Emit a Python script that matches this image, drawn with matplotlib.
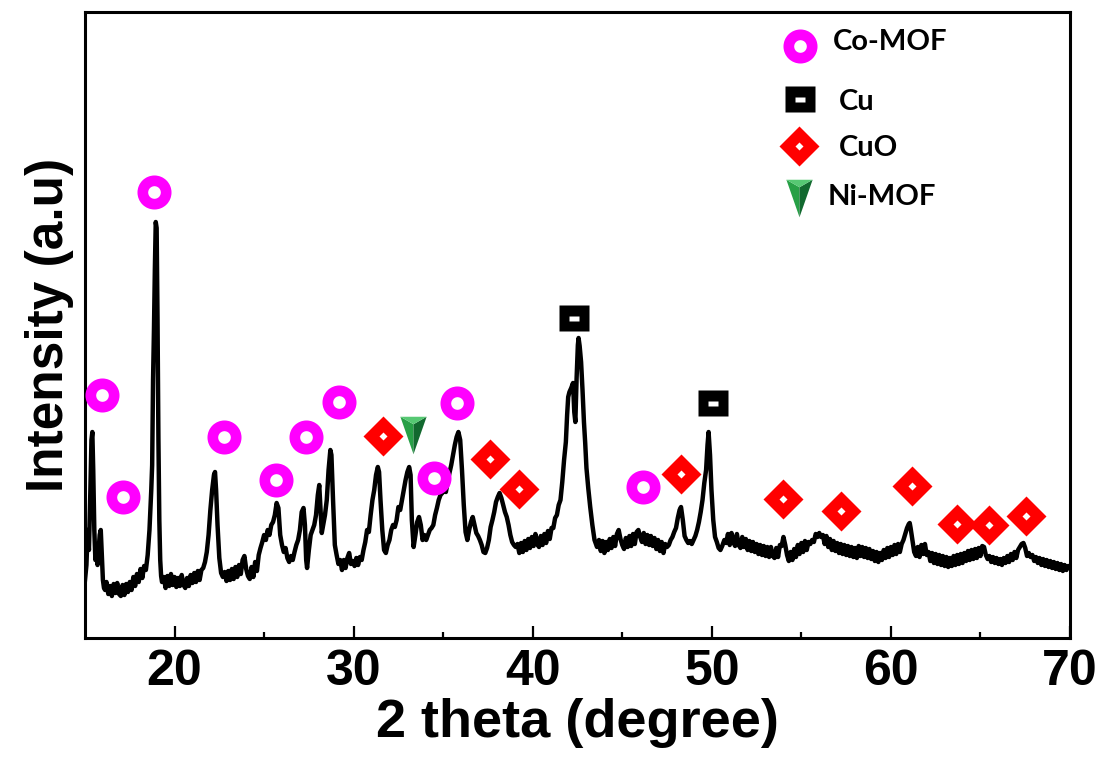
import matplotlib
matplotlib.use('Agg')
import matplotlib.pyplot as plt

# XRD scan (2 theta in degree, intensity in a.u.)
two_theta = [
    15.00, 15.08, 15.15, 15.22, 15.30, 15.36, 15.41, 15.46, 15.52, 15.58, 15.64, 15.70, 15.76, 15.82, 15.88, 15.94, 16.00, 16.06, 16.12,
    16.2, 16.3, 16.4, 16.5, 16.6, 16.7, 16.8, 16.9, 17.0, 17.1, 17.2, 17.3, 17.4, 17.5, 17.6, 17.7, 17.8, 17.9, 18.0, 18.1, 18.2, 18.3, 18.4,
    18.5, 18.6, 18.7, 18.75, 18.8, 18.85, 18.9, 18.95, 19.0, 19.05, 19.1, 19.15, 19.2, 19.25, 19.3,
    19.4, 19.5, 19.6, 19.7, 19.8, 19.9, 20.0, 20.1, 20.2, 20.3, 20.4, 20.5, 20.6, 20.7, 20.8, 20.9, 21.0, 21.1, 21.2, 21.3, 21.4, 21.5,
    21.6, 21.7, 21.8, 21.9, 22.0, 22.1, 22.2, 22.26, 22.32, 22.4, 22.5, 22.6, 22.7,
    22.8, 22.9, 23.0, 23.1, 23.2, 23.3, 23.4, 23.5, 23.6, 23.7, 23.8, 23.9, 24.0, 24.1, 24.2, 24.3, 24.4, 24.5, 24.6,
    24.7, 24.8, 24.9, 25.0, 25.1, 25.2, 25.3, 25.4, 25.5, 25.6, 25.7, 25.8, 25.9, 26.0, 26.1, 26.2, 26.3, 26.4, 26.5, 26.6, 26.7, 26.8, 26.9, 27.0, 27.1, 27.2,
    27.28, 27.35, 27.4, 27.5, 27.6, 27.7, 27.8, 27.9, 28.0, 28.08, 28.15, 28.22, 28.3, 28.4, 28.5, 28.6, 28.7, 28.76, 28.85, 28.95,
    29.05, 29.15, 29.25, 29.35, 29.45, 29.55, 29.65, 29.75, 29.85, 29.95, 30.05, 30.15, 30.25, 30.35, 30.45, 30.55, 30.65, 30.75, 30.85, 30.95,
    31.05, 31.15, 31.25, 31.35, 31.42, 31.5, 31.6, 31.7, 31.8, 31.9, 32.0, 32.1, 32.2, 32.3, 32.4, 32.5, 32.6, 32.7, 32.8, 32.9, 33.0, 33.1, 33.18, 33.25, 33.35,
    33.45, 33.55, 33.65, 33.75, 33.85, 33.95, 34.05, 34.15, 34.25, 34.35, 34.45, 34.55, 34.65, 34.75, 34.85, 34.95, 35.05, 35.15, 35.25, 35.35,
    35.45, 35.55, 35.65, 35.75, 35.85, 35.95, 36.05, 36.15, 36.25, 36.35, 36.45,
    36.55, 36.65, 36.75, 36.85, 36.95, 37.05, 37.15, 37.25, 37.35, 37.45, 37.55, 37.65, 37.75, 37.85, 37.95, 38.05,
    38.15, 38.25, 38.35, 38.45, 38.55, 38.65, 38.75, 38.85, 38.95, 39.05, 39.15,
    39.25, 39.35, 39.45, 39.55, 39.65, 39.75, 39.85, 39.95, 40.05, 40.15, 40.25, 40.35, 40.45, 40.55, 40.65, 40.75, 40.85, 40.95, 41.05, 41.15, 41.25, 41.35, 41.45,
    41.55, 41.65, 41.75, 41.85, 41.92, 41.98, 42.05, 42.15, 42.25, 42.32, 42.38, 42.45, 42.52, 42.56, 42.62, 42.7, 42.78, 42.86, 42.93, 43.0, 43.1, 43.21, 43.33, 43.45, 43.59,
    43.7, 43.8, 43.9, 44.0, 44.1, 44.2, 44.3, 44.4, 44.5, 44.6, 44.7, 44.8, 44.9, 45.0, 45.1, 45.2, 45.3, 45.4, 45.5, 45.6,
    45.7, 45.8, 45.9, 46.0, 46.1, 46.2, 46.3, 46.4, 46.5, 46.6, 46.7, 46.8, 46.9, 47.0, 47.1, 47.2, 47.3, 47.4, 47.5,
    47.6, 47.7, 47.8, 47.9, 48.0, 48.1, 48.2, 48.28, 48.38, 48.48, 48.58, 48.68, 48.78, 48.88, 48.98, 49.08, 49.18, 49.28, 49.38, 49.48,
    49.58, 49.68, 49.76, 49.82, 49.9, 49.98, 50.08, 50.18, 50.28, 50.38, 50.48, 50.58,
    50.7, 50.8, 50.9, 51.0, 51.1, 51.2, 51.3, 51.4, 51.5, 51.6, 51.7, 51.8, 51.9, 52.0, 52.1, 52.2, 52.3, 52.4, 52.5, 52.6,
    52.7, 52.8, 52.9, 53.0, 53.1, 53.2, 53.3, 53.4, 53.5, 53.6, 53.7,
    53.8, 53.9, 54.0, 54.1, 54.2, 54.3, 54.4, 54.5, 54.6, 54.7, 54.8, 54.9, 55.0, 55.1, 55.2, 55.3, 55.4, 55.5, 55.6, 55.7,
    55.8, 55.9, 56.0, 56.1, 56.2, 56.3, 56.4, 56.5, 56.6, 56.7, 56.8, 56.9, 57.0, 57.1, 57.2, 57.3, 57.4, 57.5, 57.6, 57.7,
    57.8, 57.9, 58.0, 58.1, 58.2, 58.3, 58.4, 58.5, 58.6, 58.7, 58.8, 58.9, 59.0, 59.1, 59.2, 59.3, 59.4, 59.5, 59.6, 59.7,
    59.8, 59.9, 60.0, 60.1, 60.2, 60.3, 60.4, 60.5,
    60.6, 60.7, 60.8, 60.9, 61.0, 61.05, 61.1, 61.2, 61.3,
    61.4, 61.5, 61.6, 61.7, 61.8, 61.9, 62.0, 62.1, 62.2, 62.3, 62.4, 62.5, 62.6, 62.7, 62.8, 62.9, 63.0, 63.1, 63.2, 63.3,
    63.4, 63.5, 63.6, 63.7, 63.8, 63.9, 64.0, 64.1, 64.2, 64.3, 64.4, 64.5, 64.6, 64.7, 64.8, 64.9, 65.0, 65.1, 65.2, 65.3,
    65.4, 65.5, 65.6, 65.7, 65.8, 65.9, 66.0, 66.1, 66.2, 66.3, 66.4, 66.5, 66.6, 66.7, 66.8, 66.9, 67.0, 67.1, 67.2, 67.3,
    67.4, 67.5, 67.6, 67.7, 67.8, 67.9, 68.0, 68.1, 68.2, 68.3, 68.4, 68.5, 68.6, 68.7, 68.8, 68.9, 69.0, 69.1, 69.2, 69.3,
    69.4, 69.5, 69.6, 69.7, 69.8, 69.9, 70.0,
]
intensity = [
    60, 75, 110, 90, 150, 200, 208, 170, 110, 80, 95, 75, 90, 105, 110, 85, 60, 52, 50,
    58, 46, 54, 44, 56, 47, 57, 46, 44, 55, 45, 56, 48, 58, 50, 63, 54, 66, 58, 71, 62, 74, 70,
    85, 110, 150, 175, 260, 310, 370, 418, 412, 320, 200, 120, 80, 64, 58,
    63, 52, 64, 54, 66, 55, 63, 53, 62, 54, 65, 55, 52, 62, 54, 65, 57, 67, 58, 69, 60, 70,
    72, 78, 88, 105, 130, 150, 165, 168, 150, 115, 82, 67, 63,
    68, 59, 69, 60, 71, 61, 73, 63, 75, 66, 80, 84, 71, 64, 61, 73, 63, 78, 69,
    85, 92, 98, 105, 100, 110, 105, 115, 118, 125, 137, 132, 105, 95, 88, 92, 82, 78, 84, 80, 88, 95, 100, 110, 128, 132,
    115, 80, 72, 90, 105, 110, 115, 125, 145, 155, 130, 107, 115, 125, 140, 170, 190, 185, 140, 95,
    85, 76, 80, 70, 80, 72, 82, 87, 76, 79, 74, 82, 75, 83, 80, 90, 98, 110, 108, 125,
    140, 150, 165, 173, 168, 140, 110, 90, 87, 95, 100, 110, 115, 113, 120, 133, 130, 140, 150, 160, 168, 173, 165, 120, 93,
    105, 118, 123, 115, 100, 105, 100, 105, 110, 112, 115, 125, 132, 140, 145, 147, 150, 148, 158, 167,
    175, 185, 195, 203, 208, 200, 170, 135, 108, 100, 110,
    118, 123, 115, 107, 104, 100, 95, 88, 87, 92, 100, 113, 120, 128, 138, 143,
    147, 142, 135, 128, 123, 115, 105, 98, 95, 93, 96,
    87, 97, 88, 99, 90, 101, 92, 103, 94, 106, 96, 93, 104, 95, 106, 97, 109, 101, 112, 112, 122, 125, 135,
    140, 158, 180, 198, 225, 243, 248, 252, 257, 228, 218, 262, 295, 302, 294, 278, 250, 218, 197, 172, 152, 133, 115, 100, 93,
    100, 89, 99, 87, 98, 90, 101, 92, 103, 94, 106, 110, 101, 95, 91, 102, 93, 104, 94, 106,
    96, 108, 110, 103, 98, 107, 96, 105, 95, 104, 94, 102, 91, 100, 89, 98, 87, 96, 93,
    95, 100, 103, 108, 112, 122, 130, 133, 120, 104, 100, 97, 99, 96, 100, 104, 110, 118, 128, 140,
    157, 170, 195, 208, 185, 150, 120, 103, 98, 92, 90, 94,
    100, 97, 106, 95, 107, 98, 94, 106, 95, 92, 103, 93, 101, 90, 99, 89, 98, 88, 96, 86,
    95, 85, 94, 84, 93, 83, 93, 84, 82, 92, 83,
    95, 94, 103, 95, 85, 79, 88, 80, 91, 83, 95, 86, 97, 88, 99, 90, 98, 96, 100, 98,
    106, 103, 107, 103, 105, 96, 104, 93, 101, 90, 99, 89, 97, 87, 96, 86, 95, 85, 94, 84,
    93, 83, 92, 82, 94, 84, 93, 83, 92, 82, 91, 81, 89, 79, 88, 78, 87, 80, 90, 82,
    92, 83, 93, 85, 95, 86, 96, 88,
    96, 100, 106, 112, 116, 117, 112, 100, 88,
    84, 93, 83, 95, 86, 96, 85, 88, 79, 87, 77, 86, 76, 85, 75, 84, 74, 83, 73, 82,
    74, 84, 75, 85, 76, 86, 77, 87, 79, 89, 80, 90, 81, 91, 82, 92, 84, 94, 93, 85,
    81, 84, 78, 83, 77, 82, 76, 81, 75, 82, 77, 84, 78, 86, 80, 88, 82, 90, 93, 96,
    97, 92, 84, 87, 83, 85, 79, 83, 77, 82, 75, 81, 74, 80, 73, 79, 72, 78, 71, 77,
    70, 76, 69, 75, 70, 74, 72,
]

# phase markers (2 theta, height of the symbol)
co_mof_x = [15.93, 17.11, 18.85, 22.77, 25.65, 27.33, 29.19, 34.50, 35.77, 46.16]
co_mof_y = [245, 143, 448, 203, 160, 203, 238, 162, 237, 153]
cu_x = [42.28, 50.04]
cu_y = [322, 237]
cuo_x = [31.63, 37.63, 39.25, 48.28, 53.98, 57.22, 61.18, 63.70, 65.46, 67.55]
cuo_y = [204, 181, 151, 166, 141, 129, 154, 116, 115, 124]
ni_mof_x = [33.34]
ni_mof_y = [205]

phases = ['Co-MOF', 'Cu', 'CuO', 'Ni-MOF']

plt.rcParams['font.family'] = ['Liberation Sans', 'DejaVu Sans']
plt.rcParams['font.weight'] = 'bold'

fig = plt.figure(figsize=(11.03, 7.63), dpi=100)
ax = fig.add_axes([85 / 1103, 1 - 638 / 763, 985 / 1103, 626 / 763])

ax.plot(two_theta, intensity, color='black', lw=3.2)

# marker shapes
rect_out = [(-1, -0.87), (1, -0.87), (1, 0.87), (-1, 0.87)]
rect_in = [(-1, -0.5), (1, -0.5), (1, 0.5), (-1, 0.5)]
tri_left = [(0, -1), (-0.7, 1), (0, 0.6)]
tri_right = [(0, -1), (0.7, 1), (0, 0.6)]
tri_cap = [(-0.7, 1), (0.7, 1), (0, 0.6), (0, -1), (0, 0.6)]


def ring(x, y, **kw):
    ax.plot(x, y, ls='none', marker='o', ms=16.8, mfc='white', mec='#ff00ff',
            mew=7.7, clip_on=False, zorder=5, **kw)


def square(x, y, **kw):
    ax.plot(x, y, ls='none', marker=rect_out, ms=22.3, mfc='black', mec='none',
            clip_on=False, zorder=5, **kw)
    ax.plot(x, y, ls='none', marker=rect_in, ms=7.2, mfc='white', mec='none',
            clip_on=False, zorder=6, **kw)


def diamond(x, y, **kw):
    ax.plot(x, y, ls='none', marker='D', ms=20, mfc='#ff0000', mec='none',
            clip_on=False, zorder=5, **kw)
    ax.plot(x, y, ls='none', marker='D', ms=4.5, mfc='white', mec='none',
            clip_on=False, zorder=6, **kw)


def triangle(x, y, **kw):
    ax.plot(x, y, ls='none', marker=tri_left, ms=27, mfc='#27a046', mec='none',
            clip_on=False, zorder=5, **kw)
    ax.plot(x, y, ls='none', marker=tri_right, ms=27, mfc='#12692f', mec='none',
            clip_on=False, zorder=5, **kw)
    ax.plot(x, y, ls='none', marker=tri_cap, ms=27, mfc='#56c873', mec='none',
            clip_on=False, zorder=6, **kw)


ring(co_mof_x, co_mof_y)
square(cu_x, cu_y)
diamond(cuo_x, cuo_y)
triangle(ni_mof_x, ni_mof_y)

# legend drawn by hand, like the original
tr = dict(transform=ax.transAxes)
ring([0.726], [0.946], **tr)
square([0.726], [0.861], **tr)
diamond([0.725], [0.786], **tr)
triangle([0.725], [0.703], **tr)
leg_font = dict(family=['Lato', 'DejaVu Sans'], fontsize=21, fontweight='bold',
                va='center', ha='left', transform=ax.transAxes)
ax.text(0.759, 0.952, phases[0], **leg_font)
ax.text(0.765, 0.856, phases[1], **leg_font)
ax.text(0.765, 0.783, phases[2], **leg_font)
ax.text(0.754, 0.705, phases[3], **leg_font)

ax.set_xlim(15, 70)
ax.set_ylim(2, 628)
ax.set_xticks([20, 30, 40, 50, 60, 70])
ax.set_xticks([25, 35, 45, 55, 65], minor=True)
ax.set_yticks([])
ax.tick_params(axis='x', which='major', direction='in', length=8.6, width=1.6,
               labelsize=36, pad=8)
ax.tick_params(axis='x', which='minor', direction='in', length=4.3, width=1.6)
for s in ax.spines.values():
    s.set_linewidth(2.2)

ax.set_xlabel('2 theta (degree)', fontsize=39, fontweight='bold', labelpad=2)
ax.set_ylabel('Intensity (a.u)', fontsize=37, fontweight='bold', labelpad=8)

fig.savefig('out.png', dpi=100)
